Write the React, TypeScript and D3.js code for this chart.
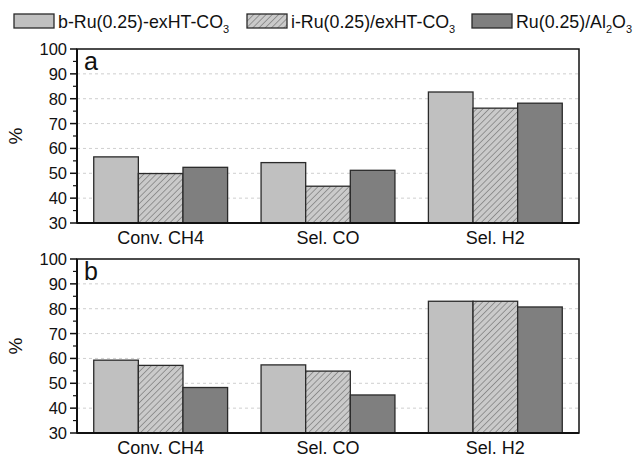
import React from 'react'
import * as d3 from 'd3'

const categories = ['Conv. CH4', 'Sel. CO', 'Sel. H2']
const seriesNames = ['b', 'i', 'ru']
const panelA = [
  [56.6, 54.3, 82.7],
  [49.9, 44.8, 76.2],
  [52.4, 51.2, 78.2],
]
const panelB = [
  [59.3, 57.4, 83.0],
  [57.2, 54.9, 83.0],
  [48.3, 45.3, 80.7],
]
const yTicks = [30, 40, 50, 60, 70, 80, 90, 100]
const yMinor = [35, 45, 55, 65, 75, 85, 95]
const gridTicks = [40, 50, 60, 70, 80, 90]

const W = 636
const H = 458
const left = 77
const right = 579
const font = 'Liberation Sans, Arial, sans-serif'
const fills = ['#c0c0c0', 'url(#hatch)', '#7f7f7f']

const x = d3.scaleBand().domain(categories).range([left, right]).paddingInner(0.2).paddingOuter(0.1)
const xs = d3.scaleBand().domain(seriesNames).range([0, x.bandwidth()])

const Panel = ({ data, top, bottom, letter }: { data: number[][]; top: number; bottom: number; letter: string }) => {
  const y = d3.scaleLinear().domain([30, 100]).range([bottom, top])
  return (
    <g>
      {gridTicks.map(t => (
        <line key={t} x1={left} x2={right} y1={y(t)} y2={y(t)} stroke="#cfcfcf" strokeDasharray="3,3" strokeWidth={1} />
      ))}
      {data.map((vals, si) =>
        vals.map((v, ci) => (
          <rect
            key={si + '-' + ci}
            x={x(categories[ci])! + xs(seriesNames[si])!}
            y={y(v)}
            width={xs.bandwidth()}
            height={y(30) - y(v)}
            fill={fills[si]}
            stroke="#2a2a2a"
            strokeWidth={1.3}
          />
        ))
      )}
      <rect x={left} y={top} width={right - left} height={bottom - top} fill="none" stroke="#111" strokeWidth={1.5} />
      <line x1={left} x2={right} y1={bottom} y2={bottom} stroke="#111" strokeWidth={2} />
      <line x1={left} x2={left} y1={top} y2={bottom} stroke="#111" strokeWidth={2} />
      {yTicks.map(t => (
        <g key={t}>
          <line x1={left - 7} x2={left} y1={y(t)} y2={y(t)} stroke="#111" strokeWidth={1.5} />
          <text x={left - 10} y={y(t)} dy="0.36em" textAnchor="end" fontSize={16.5} fontFamily={font} fill="#111">
            {t}
          </text>
        </g>
      ))}
      {yMinor.map(t => (
        <line key={t} x1={left - 4} x2={left} y1={y(t)} y2={y(t)} stroke="#111" strokeWidth={1.2} />
      ))}
      {categories.map(c => (
        <text key={c} x={x(c)! + x.bandwidth() / 2} y={bottom + 21} textAnchor="middle" fontSize={18} fontFamily={font} fill="#111">
          {c}
        </text>
      ))}
      <text x={84} y={top + 21} fontSize={25} fontFamily={font} fill="#111">
        {letter}
      </text>
      <text
        transform={`translate(22,${(top + bottom) / 2}) rotate(-90)`}
        textAnchor="middle"
        fontSize={19}
        fontFamily={font}
        fill="#111"
      >
        %
      </text>
    </g>
  )
}

const Legend = () => {
  const items = [
    { x: 14, fill: fills[0], label: 'b-Ru(0.25)-exHT-CO', sub: '3', rest: [] as string[][] },
    { x: 247, fill: fills[1], label: 'i-Ru(0.25)/exHT-CO', sub: '3', rest: [] as string[][] },
    { x: 472, fill: fills[2], label: 'Ru(0.25)/Al', sub: '2', rest: [['O', '3']] },
  ]
  return (
    <g>
      {items.map((it, i) => (
        <g key={i}>
          <rect x={it.x} y={14} width={40} height={14} fill={it.fill} stroke="#2a2a2a" strokeWidth={1.3} />
          <text x={it.x + 44} y={28} fontSize={17.8} fontFamily={font} fill="#111">
            {it.label}
            <tspan fontSize={11} dy={5}>{it.sub}</tspan>
            {it.rest.map((r, j) => (
              <React.Fragment key={j}>
                <tspan fontSize={17.8} dy={-5}>{r[0]}</tspan>
                <tspan fontSize={11} dy={5}>{r[1]}</tspan>
              </React.Fragment>
            ))}
          </text>
        </g>
      ))}
    </g>
  )
}

export default function App() {
  return (
    <svg width={W} height={H} style={{ position: 'absolute', left: 0, top: 0, background: '#fff' }}>
      <defs>
        <pattern id="hatch" patternUnits="userSpaceOnUse" width={4.4} height={4.4} patternTransform="rotate(45)">
          <rect width={4.4} height={4.4} fill="#cacaca" />
          <line x1={0} y1={0} x2={0} y2={4.4} stroke="#5a5a5a" strokeWidth={1} />
        </pattern>
      </defs>
      <Legend />
      <Panel data={panelA} top={49} bottom={223} letter="a" />
      <Panel data={panelB} top={259} bottom={433} letter="b" />
    </svg>
  )
}
